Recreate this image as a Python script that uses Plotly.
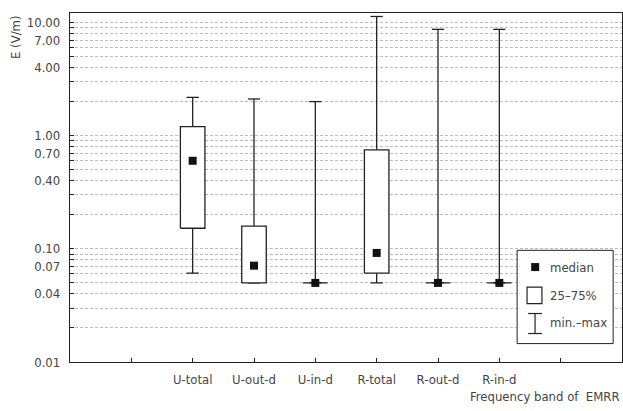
import plotly.graph_objects as go
import numpy as np

categories = ["U-total", "U-out-d", "U-in-d", "R-total", "R-out-d", "R-in-d"]
v_min = [0.061, 0.05, 0.05, 0.05, 0.05, 0.05]
v_q1 = [0.152, 0.05, 0.05, 0.061, 0.05, 0.05]
v_med = [0.60, 0.071, 0.05, 0.092, 0.05, 0.05]
v_q3 = [1.20, 0.159, 0.05, 0.75, 0.05, 0.05]
v_max = [2.18, 2.11, 2.00, 11.3, 8.7, 8.7]

ytick_vals = [0.01, 0.04, 0.07, 0.1, 0.4, 0.7, 1, 4, 7, 10]
ytick_text = ["0.01", "0.04", "0.07", "0.10", "0.40", "0.70", "1.00", "4.00", "7.00", "10.00"]

FONT = "Liberation Sans Narrow, DejaVu Sans Condensed, sans-serif"
INK = "#222222"
TXT = "#444444"
FS = 13

xpos = np.arange(2, 2 + len(categories))
bw = 0.2   # half box width
cw = 0.1   # half cap width

fig = go.Figure()

# whiskers
wx, wy = [], []
for x, lo, hi in zip(xpos, v_min, v_max):
    wx += [x, x, None, x - cw, x + cw, None, x - cw, x + cw, None]
    wy += [lo, hi, None, lo, lo, None, hi, hi, None]
fig.add_trace(go.Scatter(x=wx, y=wy, mode="lines", line=dict(color=INK, width=1.3),
                         hoverinfo="skip", showlegend=False))

# boxes
for x, a, b in zip(xpos, v_q1, v_q3):
    fig.add_trace(go.Scatter(x=[x - bw, x + bw, x + bw, x - bw, x - bw], y=[a, a, b, b, a],
                             mode="lines", fill="toself", fillcolor="white",
                             line=dict(color=INK, width=1.3), showlegend=False))

# medians
fig.add_trace(go.Scatter(x=xpos, y=v_med, mode="markers",
                         marker=dict(symbol="square", size=8, color="#111111"),
                         showlegend=False))

# minor grid values
grid_vals = [m * 10.0 ** k for k in range(-2, 2) for m in range(1, 10)]
grid_vals = [g for g in grid_vals if 0.011 < g < 12]

fig.update_layout(
    width=623, height=411,
    margin=dict(l=70, r=1, t=12.5, b=49.3),
    plot_bgcolor="white", paper_bgcolor="white",
    font=dict(family=FONT, size=FS, color=TXT),
    xaxis=dict(range=[0, 9], tickvals=list(xpos), ticktext=categories,
               showgrid=False, zeroline=False, showline=True, linecolor=INK, linewidth=1.3,
               mirror=True, ticks="inside", ticklen=4, tickcolor=INK, ticklabelstandoff=5,
               minor=dict(tickvals=[1, 8], ticks="inside", ticklen=4, tickcolor=INK)),
    yaxis=dict(type="log", range=[-2, 1.084], tickvals=ytick_vals, ticktext=ytick_text,
               showgrid=False, zeroline=False, showline=True, linecolor=INK, linewidth=1.3,
               mirror=True, ticks="inside", ticklen=4, tickcolor=INK, ticklabelstandoff=6,
               minor=dict(tickvals=grid_vals, showgrid=True, gridcolor="#bdbdbd",
                          griddash="3px,2px", gridwidth=0.8, ticks="inside", ticklen=4,
                          tickcolor=INK)),
)

# axis titles
fig.add_annotation(text="E (V/m)", xref="paper", yref="paper", x=0, y=1, xshift=-55,
                   xanchor="center", yanchor="top", textangle=-90, showarrow=False,
                   font=dict(family=FONT, size=FS, color=TXT))
fig.add_annotation(text="Frequency band of  EMRR", xref="paper", yref="paper", x=1, y=0,
                   xanchor="right", yanchor="middle", yshift=-34, showarrow=False,
                   font=dict(family=FONT, size=FS, color=TXT))

# legend (paper coords)
fig.add_shape(type="rect", xref="paper", yref="paper", x0=0.810, x1=0.984, y0=0.0527, y1=0.320,
              line=dict(color=INK, width=1), fillcolor="white", layer="above")
fig.add_shape(type="rect", xref="paper", yref="paper", x0=0.8355, x1=0.850, y0=0.2605, y1=0.2835,
              line=dict(width=0), fillcolor="#111111", layer="above")
fig.add_shape(type="rect", xref="paper", yref="paper", x0=0.828, x1=0.855, y0=0.1672, y1=0.2148,
              line=dict(color=INK, width=1.2), fillcolor="white", layer="above")
fig.add_shape(type="line", xref="paper", yref="paper", x0=0.8425, x1=0.8425, y0=0.0816, y1=0.1389,
              line=dict(color=INK, width=1.2), layer="above")
fig.add_shape(type="line", xref="paper", yref="paper", x0=0.830, x1=0.855, y0=0.0816, y1=0.0816,
              line=dict(color=INK, width=1.2), layer="above")
fig.add_shape(type="line", xref="paper", yref="paper", x0=0.830, x1=0.855, y0=0.1389, y1=0.1389,
              line=dict(color=INK, width=1.2), layer="above")
for txt, yy in [("median", 0.272), ("25–75%", 0.191), ("min.–max", 0.1146)]:
    fig.add_annotation(text=txt, xref="paper", yref="paper", x=0.866, y=yy, xanchor="left",
                       yanchor="middle", showarrow=False, font=dict(family=FONT, size=FS, color=TXT))

fig.write_html("out.html", config={"displayModeBar": False},
               post_script="document.body.style.margin='0';")
